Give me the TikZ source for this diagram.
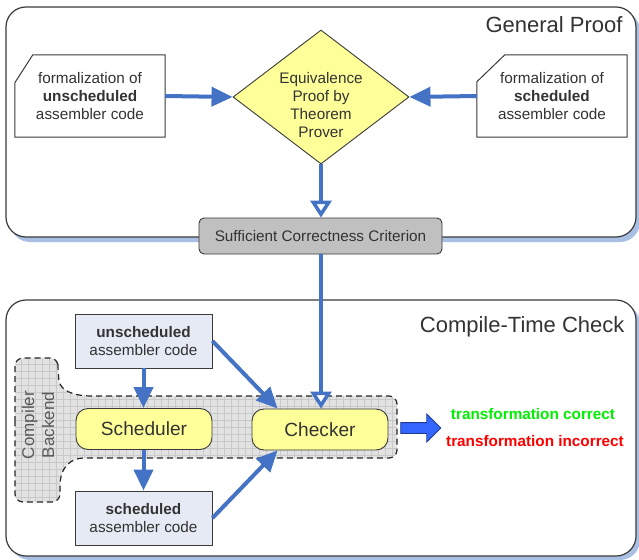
\documentclass[tikz,border=0pt]{standalone}
\usepackage{fontspec}
\setmainfont{Liberation Sans}
\usetikzlibrary{arrows.meta,shapes.geometric,shapes.arrows,calc}

\definecolor{linkblue}{HTML}{4472C4}
\definecolor{inkgray}{HTML}{333333}
\definecolor{edgegray}{HTML}{3A3A3A}
\definecolor{paleyellow}{HTML}{FFFF99}
\definecolor{codefill}{HTML}{E5EAF5}
\definecolor{critfill}{HTML}{C0C0C0}
\definecolor{shadowblue}{HTML}{A9C0E4}
\definecolor{backfill}{HTML}{E2E2E2}
\definecolor{backgrid}{HTML}{C9C9C9}
\definecolor{fatblue}{HTML}{3366FF}
\definecolor{fatedge}{HTML}{1F3A8F}
\definecolor{okgreen}{HTML}{00F000}
\definecolor{badred}{HTML}{FF0000}

\pgfdeclarelayer{panels}
\pgfdeclarelayer{outlines}
\pgfsetlayers{panels,outlines,main}

\tikzset{
  bodytext/.style={font=\fontsize{15.3}{18.3}\selectfont, text=inkgray, align=center},
  titletext/.style={font=\fontsize{22}{26}\selectfont, text=inkgray},
  panel/.style={draw=edgegray, line width=1.2pt, fill=white, rounded corners=20pt},
  panelshadow/.style={fill=shadowblue, rounded corners=20pt},
  docbox/.style={bodytext, minimum width=150pt, minimum height=82pt, inner sep=0pt},
  docline/.style={draw=edgegray, line width=1pt, fill=white},
  prover/.style={diamond, inner sep=0pt, minimum width=176pt, minimum height=134pt,
    draw=edgegray, line width=0.9pt, fill=paleyellow},
  criterion/.style={bodytext, minimum width=243pt, minimum height=36pt, rounded corners=5pt,
    draw=edgegray, line width=0.9pt, fill=critfill},
  codebox/.style={bodytext, minimum width=137pt, minimum height=54pt, draw=edgegray,
    line width=0.9pt, fill=codefill},
  stagebox/.style={font=\fontsize{19.1}{22}\selectfont, text=inkgray, minimum width=136pt,
    minimum height=41pt, rounded corners=12pt, draw=edgegray, line width=0.9pt, fill=paleyellow},
  flow/.style={draw=linkblue, line width=4pt, -{Triangle[length=21pt,width=19pt]}},
  openflow/.style={draw=linkblue, line width=3.5pt,
    -{Triangle[open,length=17pt,width=21pt,fill=white]}},
  backendline/.style={draw=black!85, line width=1.2pt, dash pattern=on 6pt off 4pt},
  verdict/.style={font=\bfseries\fontsize{15.3}{18}\selectfont},
}

\begin{document}
\begin{tikzpicture}[x=1pt,y=-1pt]
\useasboundingbox (0,0) rectangle (639,559);

% the two panels with their blue drop shadows
\begin{pgfonlayer}{panels}
\fill[panelshadow] (10,11) rectangle (640,242);
\path[panel] (6,7) rectangle (636,237);
\fill[panelshadow] (10,304) rectangle (640,560);
\path[panel] (6,300) rectangle (636,556);
\end{pgfonlayer}

\node[titletext, anchor=east] (gpTitle) at (626,25) {General Proof};
\node[titletext, anchor=east] (ctTitle) at (628,327) {Compile-Time Check};

% compiler backend region: grid-filled, dashed outline
\def\backendpath{(15,430) [rounded corners=8pt] -- (15,358) -- (58,358) -- (58,372)
  [sharp corners] .. controls (60,390) and (72,396) .. (92,396)
  [rounded corners=8pt] -- (397,396) -- (397,458) -- (92,458)
  [sharp corners] .. controls (72,458) and (60,466) .. (60,486)
  [rounded corners=8pt] -- (60,502) -- (15,502) -- cycle}
\begin{scope}
  \clip \backendpath;
  \fill[backfill] (10,350) rectangle (400,505);
  \draw[backgrid, line width=0.5pt, step=7pt] (10,350) grid (400,505);
\end{scope}
\draw[backendline] \backendpath;
\node[font=\fontsize{17}{20}\selectfont, text=black!65, align=center, rotate=90]
  (backendLabel) at (38,425) {Compiler\\Backend};

% general proof part: documents with a cut corner
\node[docbox] (docL) at (90,96) {formalization of\\\textbf{unscheduled}\\assembler code};
\node[docbox] (docR) at (552,96) {formalization of\\\textbf{scheduled}\\assembler code};
\begin{pgfonlayer}{outlines}
\path[docline] ($(docL.north west)+(0,28)$) -- ($(docL.north west)+(18,0)$)
  -- (docL.north east) -- (docL.south east) -- (docL.south west) -- cycle;
\path[docline] ($(docR.north west)+(0,27)$) -- ($(docR.north west)+(28,0)$)
  -- (docR.north east) -- (docR.south east) -- (docR.south west) -- cycle;
\end{pgfonlayer}

\node[prover] (prover) at (321,97) {};
\node[bodytext] (proverText) at (321,105) {Equivalence\\Proof by\\Theorem\\Prover};
\node[criterion] (crit) at (320.5,236) {Sufficient Correctness Criterion};

% compile-time check part
\node[codebox] (unsch) at (143.5,341) {\textbf{unscheduled}\\assembler code};
\node[codebox] (sch) at (143.5,518) {\textbf{scheduled}\\assembler code};
\node[stagebox] (scheduler) at (144,429) {Scheduler};
\node[stagebox] (checker) at (320,429.5) {Checker};

\node[single arrow, fill=fatblue, draw=fatedge, line width=0.8pt, inner sep=5pt,
  single arrow head extend=8.5pt, single arrow head indent=0pt, minimum height=40pt]
  (verdictArrow) at (418,428) {};
\node[verdict, text=okgreen] (okText) at (533,414) {transformation correct};
\node[verdict, text=badred] (badText) at (535,441) {transformation incorrect};

% connectors
\draw[flow] (docL.east) -- (prover.west);
\draw[flow] (docR.west) -- (prover.east);
\draw[openflow] (prover.south) -- (crit.north -| prover.south);
\draw[openflow] (crit.south -| 321,0) -- (checker.north -| 321,0);
\draw[flow] (unsch.south) -- (scheduler.north -| unsch.south);
\draw[flow] (scheduler.south -| sch.north) -- (sch.north);
\draw[flow] (unsch.east) -- ($(checker.north west)+(26,0)$);
\draw[flow] (sch.east) -- ($(checker.south west)+(26,0)$);
\end{tikzpicture}
\end{document}
